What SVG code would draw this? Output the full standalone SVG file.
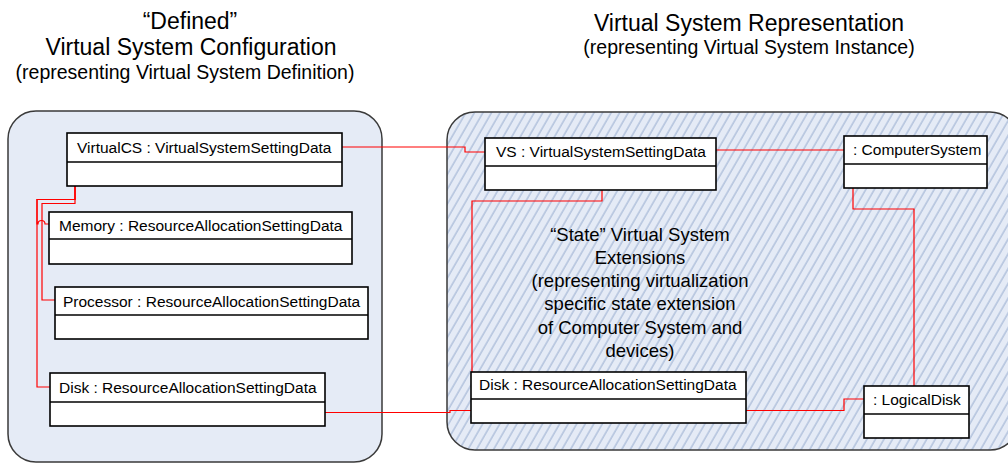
<svg xmlns="http://www.w3.org/2000/svg" width="1008" height="463" viewBox="0 0 1008 463">
<style>
text{font-family:"Liberation Sans",Arial,sans-serif;fill:#000}
.title{font-size:23px;text-anchor:middle}
.sub{font-size:19.5px;text-anchor:middle}
.mid{font-size:18.5px;text-anchor:middle}
.lbl{font-size:15.5px}
.box rect{fill:#fff;stroke:#000;stroke-width:1.6}
.box line{stroke:#000;stroke-width:1.6}
.panel{stroke:#3a3a3a;stroke-width:1.5}
#connectors path{fill:none;stroke:#ff0000;stroke-width:1.2}
</style>
<defs>
<pattern id="hatch" patternUnits="userSpaceOnUse" width="7.4" height="20" patternTransform="rotate(30)">
<rect width="7.4" height="20" fill="#e5ebf6"/>
<line x1="1" y1="0" x2="1" y2="20" stroke="#aebfdb" stroke-width="1.4"/>
</pattern>
</defs>
<rect width="1008" height="463" fill="#fff"/>

<g id="title-left">
<text class="title" x="190" y="29">“Defined”</text>
<text class="title" x="191" y="55">Virtual System Configuration</text>
<text class="sub" x="185" y="79">(representing Virtual System Definition)</text>
</g>
<g id="title-right">
<text class="title" x="749" y="31">Virtual System Representation</text>
<text class="sub" x="749" y="54">(representing Virtual System Instance)</text>
</g>

<g id="panel-defined"><rect class="panel" x="8" y="111" width="374" height="351" rx="28" fill="#e5ebf6"/></g>
<g id="panel-representation"><rect class="panel" x="447" y="112" width="571" height="338" rx="28" fill="url(#hatch)"/></g>

<g id="state-note">
<text class="mid" x="640" y="241">“State” Virtual System</text>
<text class="mid" x="640" y="264">Extensions</text>
<text class="mid" x="640" y="287">(representing virtualization</text>
<text class="mid" x="640" y="310">specific state extension</text>
<text class="mid" x="640" y="334">of Computer System and</text>
<text class="mid" x="640" y="357">devices)</text>
</g>

<g id="connectors">
<path d="M342 147 H465 V152 H485"/>
<path d="M716 150 H844"/>
<path d="M602 190 V201 H472 V372"/>
<path d="M853 188 V209 H914 V386"/>
<path d="M325 412.5 H450 V410.5 H471"/>
<path d="M746 410.5 H844 V399 H864"/>
<path d="M75 186 V199.5 H37 V224 H38 A3.5 3.5 0 0 1 45 224 H49"/>
<path d="M75 186 V203.5 H42 V300 H55"/>
<path d="M75 186 V199.5 H37 V387 H50"/>
</g>

<g id="virtualcs" class="box"><rect x="67" y="133" width="275" height="53"/><line x1="67" y1="162" x2="342" y2="162"/><text class="lbl" x="77" y="153">VirtualCS : VirtualSystemSettingData</text></g>
<g id="memory" class="box"><rect x="49" y="212" width="303" height="52"/><line x1="49" y1="239" x2="352" y2="239"/><text class="lbl" x="59" y="231">Memory : ResourceAllocationSettingData</text></g>
<g id="processor" class="box"><rect x="55" y="287" width="313" height="52"/><line x1="55" y1="315" x2="368" y2="315"/><text class="lbl" x="63" y="306.5">Processor : ResourceAllocationSettingData</text></g>
<g id="disk-defined" class="box"><rect x="50" y="373" width="275" height="53"/><line x1="50" y1="402" x2="325" y2="402"/><text class="lbl" x="59" y="393">Disk : ResourceAllocationSettingData</text></g>
<g id="vs" class="box"><rect x="485" y="138" width="231" height="52"/><line x1="485" y1="166" x2="716" y2="166"/><text class="lbl" x="496" y="157">VS : VirtualSystemSettingData</text></g>
<g id="computersystem" class="box"><rect x="844" y="136" width="143" height="52"/><line x1="844" y1="164" x2="987" y2="164"/><text class="lbl" x="853" y="155">: ComputerSystem</text></g>
<g id="disk-state" class="box"><rect x="471" y="372" width="275" height="51"/><line x1="471" y1="399" x2="746" y2="399"/><text class="lbl" x="479" y="389.5">Disk : ResourceAllocationSettingData</text></g>
<g id="logicaldisk" class="box"><rect x="864" y="386" width="105" height="52"/><line x1="864" y1="414" x2="969" y2="414"/><text class="lbl" x="873" y="404.5">: LogicalDisk</text></g>
</svg>
